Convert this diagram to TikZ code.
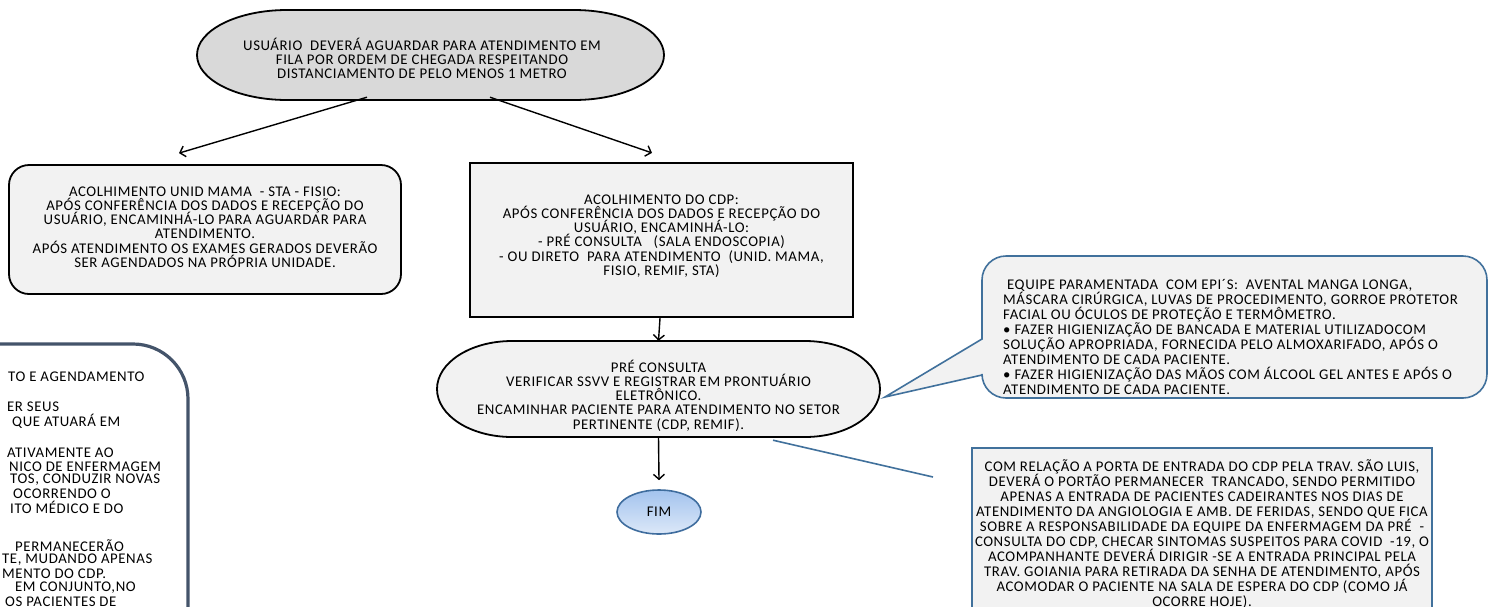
\documentclass[tikz,border=0pt]{standalone}
\usepackage{fontspec}
\setmainfont{Carlito}[LetterSpace=4]
\usetikzlibrary{arrows.meta,calc,shapes.geometric}
\definecolor{boxgray}{HTML}{F2F2F2}
\definecolor{topgray}{HTML}{D9D9D9}
\definecolor{bluebord}{HTML}{41719C}
\definecolor{slate}{HTML}{44546A}
\definecolor{fimtop}{HTML}{A3C3EE}
\definecolor{fimbot}{HTML}{DCE8F8}
\definecolor{fimbord}{HTML}{3F6D9E}
\newcommand\diagfont{\fontsize{14.8}{14.3}\selectfont\lineskiplimit=-30pt\relax\lineskip=0pt\relax}
\newcommand\widefont{\fontsize{14.8}{15}\selectfont\lineskiplimit=-30pt\relax\lineskip=0pt\relax}
\tikzset{
  txt/.style={font=\diagfont, text=black},
  shapebox/.style={draw=black, line width=1.8pt, fill=boxgray, inner sep=0pt},
  ghost/.style={inner sep=0pt},
  textblock/.style={txt, align=center, inner sep=0pt},
  arr/.style={draw=black, line width=1.4pt, -{Straight Barb[length=5pt,width=11pt,line width=1.4pt]}},
  blueline/.style={draw=bluebord, line width=1.6pt},
  outline/.style={draw=black, line width=1.8pt},
  frag/.style={txt, anchor=west, inner sep=0pt}
}
\begin{document}
\begin{tikzpicture}[x=1pt,y=-1pt]
\clip (0,0) rectangle (1488,606);
\fill[white] (0,0) rectangle (1488,606);

% top rounded terminator (elliptic ends)
\draw[outline, fill=topgray]
  (287,10) -- (574,10)
  .. controls (623.7,10) and (664,30.2) .. (664,55)
  .. controls (664,79.8) and (623.7,100) .. (574,100)
  -- (287,100)
  .. controls (237.3,100) and (197,79.8) .. (197,55)
  .. controls (197,30.2) and (237.3,10) .. (287,10) -- cycle;
\node[ghost, minimum width=467pt, minimum height=90pt] (top) at (430.5,55) {};
\node[textblock] (toptext) at (422,58.5)
  {USUÁRIO~ DEVERÁ AGUARDAR PARA ATENDIMENTO EM\\FILA POR ORDEM DE CHEGADA RESPEITANDO\\DISTANCIAMENTO DE PELO MENOS 1 METRO};

% left box
\node[shapebox, rounded corners=20pt, minimum width=392pt, minimum height=129pt] (lbox) at (205,229.5) {};
\node[textblock] (lboxtext) at (205,227)
  {ACOLHIMENTO UNID MAMA~ - STA - FISIO:\\APÓS CONFERÊNCIA DOS DADOS E RECEPÇÃO DO\\USUÁRIO, ENCAMINHÁ-LO PARA AGUARDAR PARA\\ATENDIMENTO.\\APÓS ATENDIMENTO OS EXAMES GERADOS DEVERÃO\\SER AGENDADOS NA PRÓPRIA UNIDADE.};

% CDP box
\node[shapebox, line width=2.2pt, minimum width=383pt, minimum height=154pt] (cdp) at (661.5,240) {};
\node[textblock] (cdptext) at (661.5,236)
  {ACOLHIMENTO DO CDP:\\APÓS CONFERÊNCIA DOS DADOS E RECEPÇÃO DO\\USUÁRIO, ENCAMINHÁ-LO:\\- PRÉ CONSULTA~~ (SALA ENDOSCOPIA)\\- OU DIRETO~ PARA ATENDIMENTO~ (UNID. MAMA,\\FISIO, REMIF, STA)};

% pre consulta terminator
\draw[outline, fill=boxgray]
  (512,341) -- (805,341)
  .. controls (846.4,341) and (880,362.5) .. (880,389)
  .. controls (880,415.5) and (846.4,437) .. (805,437)
  -- (512,437)
  .. controls (470.6,437) and (437,415.5) .. (437,389)
  .. controls (437,362.5) and (470.6,341) .. (512,341) -- cycle;
\node[ghost, minimum width=443pt, minimum height=96pt] (pre) at (658.5,389) {};
\node[textblock] (pretext) at (658.5,395.5)
  {PRÉ CONSULTA\\VERIFICAR SSVV E REGISTRAR EM PRONTUÁRIO\\ELETRÔNICO.\\ENCAMINHAR PACIENTE PARA ATENDIMENTO NO SETOR\\PERTINENTE (CDP, REMIF).};

% FIM
\node[ellipse, draw=fimbord, line width=1.6pt, top color=fimtop, bottom color=fimbot, minimum width=84pt, minimum height=44pt, inner sep=0pt, txt] (fim) at (659,512) {FIM};

% arrows
\draw[arr] ([xshift=-63.5pt,yshift=3pt]top.south) -- ([xshift=-26pt,yshift=11pt]lbox.north);
\draw[arr] ([xshift=59.5pt,yshift=3pt]top.south) -- ([xshift=-9.5pt,yshift=9pt]cdp.north);
\draw[arr] ([xshift=-1.5pt]cdp.south) -- ([xshift=0pt]pre.north);
\draw[arr] (pre.south) -- ([yshift=9pt]fim.north);

% callout
\draw[draw=bluebord, line width=1.6pt, fill=boxgray]
  (982,339) [rounded corners=24pt] -- (982,256) -- (1487,256) -- (1487,398) -- (982,398) [sharp corners] -- (982,375) -- (885,397) -- cycle;
\node[txt, font=\widefont, align=left, anchor=west, inner sep=0pt] (note) at (1003,336.5)
  {~EQUIPE PARAMENTADA~ COM EPI´S:~ AVENTAL MANGA LONGA,\\MÁSCARA CIRÚRGICA, LUVAS DE PROCEDIMENTO, GORROE PROTETOR\\FACIAL OU ÓCULOS DE PROTEÇÃO E TERMÔMETRO.\\• FAZER HIGIENIZAÇÃO DE BANCADA E MATERIAL UTILIZADOCOM\\SOLUÇÃO APROPRIADA, FORNECIDA PELO ALMOXARIFADO, APÓS O\\ATENDIMENTO DE CADA PACIENTE.\\• FAZER HIGIENIZAÇÃO DAS MÃOS COM ÁLCOOL GEL ANTES E APÓS O\\ATENDIMENTO DE CADA PACIENTE.};

% bottom right box
\node[draw=bluebord, line width=1.6pt, fill=boxgray, minimum width=460pt, minimum height=200pt, anchor=north, inner sep=0pt] (door) at (1202,447) {};
\node[textblock, font=\widefont] (doortext) at (1202,534)
  {COM RELAÇÃO A PORTA DE ENTRADA DO CDP PELA TRAV. SÃO LUIS,\\DEVERÁ O PORTÃO PERMANECER~ TRANCADO, SENDO PERMITIDO\\APENAS A ENTRADA DE PACIENTES CADEIRANTES NOS DIAS DE\\ATENDIMENTO DA ANGIOLOGIA E AMB. DE FERIDAS, SENDO QUE FICA\\SOBRE A RESPONSABILIDADE DA EQUIPE DA ENFERMAGEM DA PRÉ~ -\\CONSULTA DO CDP, CHECAR SINTOMAS SUSPEITOS PARA COVID~ -19, O\\ACOMPANHANTE DEVERÁ DIRIGIR -SE A ENTRADA PRINCIPAL PELA\\TRAV. GOIANIA PARA RETIRADA DA SENHA DE ATENDIMENTO, APÓS\\ACOMODAR O PACIENTE NA SALA DE ESPERA DO CDP (COMO JÁ\\OCORRE HOJE).};

% pointer line
\coordinate (tipend) at (933,477);
\draw[blueline] ([xshift=114.5pt,yshift=-3pt]pre.south) -- (tipend);

% left partial box
\draw[draw=slate, line width=3.2pt, fill=white]
  (-40,344) [rounded corners=55pt] -- (188,344) -- (188,700) [sharp corners] -- (-40,700) -- cycle;
\node[frag] (l1) at (8,377) {TO E AGENDAMENTO};
\node[frag] (l2) at (7,407) {ER SEUS};
\node[frag] (l3) at (12,421) {QUE ATUARÁ EM};
\node[frag] (l4) at (7,453) {ATIVAMENTE AO};
\node[frag] (l5) at (9,466.5) {NICO DE ENFERMAGEM};
\node[frag] (l6) at (10,480) {TOS, CONDUZIR NOVAS};
\node[frag] (l7) at (13,493.5) {OCORRENDO O};
\node[frag] (l8) at (10,507) {ITO MÉDICO E DO};
\node[frag] (l9) at (15,546) {PERMANECERÃO};
\node[frag] (l10) at (2,560) {TE, MUDANDO APENAS};
\node[frag] (l11) at (2,574) {MENTO DO CDP.};
\node[frag] (l12) at (15,588) {EM CONJUNTO,NO};
\node[frag] (l13) at (5,602) {OS PACIENTES DE};
\end{tikzpicture}
\end{document}
